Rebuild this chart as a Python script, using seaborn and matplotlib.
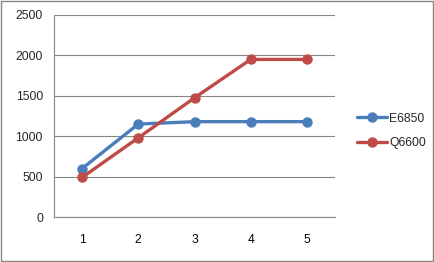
import matplotlib
matplotlib.use("Agg")
import matplotlib.pyplot as plt
import seaborn as sns
import pandas as pd
from matplotlib.patches import Rectangle

categories = ["1", "2", "3", "4", "5"]
e6850 = [600, 1150, 1180, 1180, 1180]
q6600 = [490, 980, 1475, 1950, 1950]
series_names = ["E6850", "Q6600"]
yticks = [0, 500, 1000, 1500, 2000, 2500]

rows = []
for name, vals in zip(series_names, [e6850, q6600]):
    for i, (c, v) in enumerate(zip(categories, vals)):
        rows.append({"pos": i, "cat": c, "value": v, "series": name})
df = pd.DataFrame(rows)

sns.set_style("white")
plt.rcParams["font.family"] = ["Liberation Sans", "DejaVu Sans"]

fig = plt.figure(figsize=(4.35, 2.62), dpi=100)
ax = fig.add_axes([54/435, 1-217/262, (335-54)/435, (217-15)/262])

palette = {"E6850": "#4A7EBB", "Q6600": "#BE4B48"}
sns.lineplot(data=df, x="pos", y="value", hue="series", palette=palette,
             marker="o", markersize=7.5, markeredgewidth=0, linewidth=2.4,
             ax=ax, legend=True)

fs = 8.7
ax.set_xlim(-0.5, len(categories) - 0.5)
ax.set_ylim(0, 2500)
ax.set_yticks(yticks)
ax.set_xticks(range(len(categories)))
ax.set_xticklabels(categories)
ax.set_xticks([i - 0.5 for i in range(len(categories) + 1)], minor=True)
ax.tick_params(axis="x", which="major", length=0, pad=12, labelsize=fs, colors="#000000")
ax.tick_params(axis="x", which="minor", length=4, width=0.8, color="#868686", direction="out")
ax.tick_params(axis="y", which="major", length=5, width=0.8, color="#868686", direction="out",
               labelsize=fs, pad=3)
ax.set_xlabel("")
ax.set_ylabel("")
ax.grid(axis="y", color="#868686", linewidth=0.8)
ax.set_axisbelow(True)
for s in ["top", "right"]:
    ax.spines[s].set_visible(False)
for s in ["left", "bottom"]:
    ax.spines[s].set_color("#868686")
    ax.spines[s].set_linewidth(0.8)

handles, labels = ax.get_legend_handles_labels()
ax.get_legend().remove()
fig.legend(handles, labels, loc="center left", bbox_to_anchor=(352/435, 1-131/262),
           frameon=False, fontsize=fs, handlelength=2.5, handletextpad=0.2,
           labelspacing=1.05, borderaxespad=0)

fig.patches.append(Rectangle((0.6/435, 0.6/262), 1-2.2/435, 1-1.6/262, transform=fig.transFigure,
                             fill=False, edgecolor="#868686", linewidth=1))

fig.savefig("out.png", dpi=100)
